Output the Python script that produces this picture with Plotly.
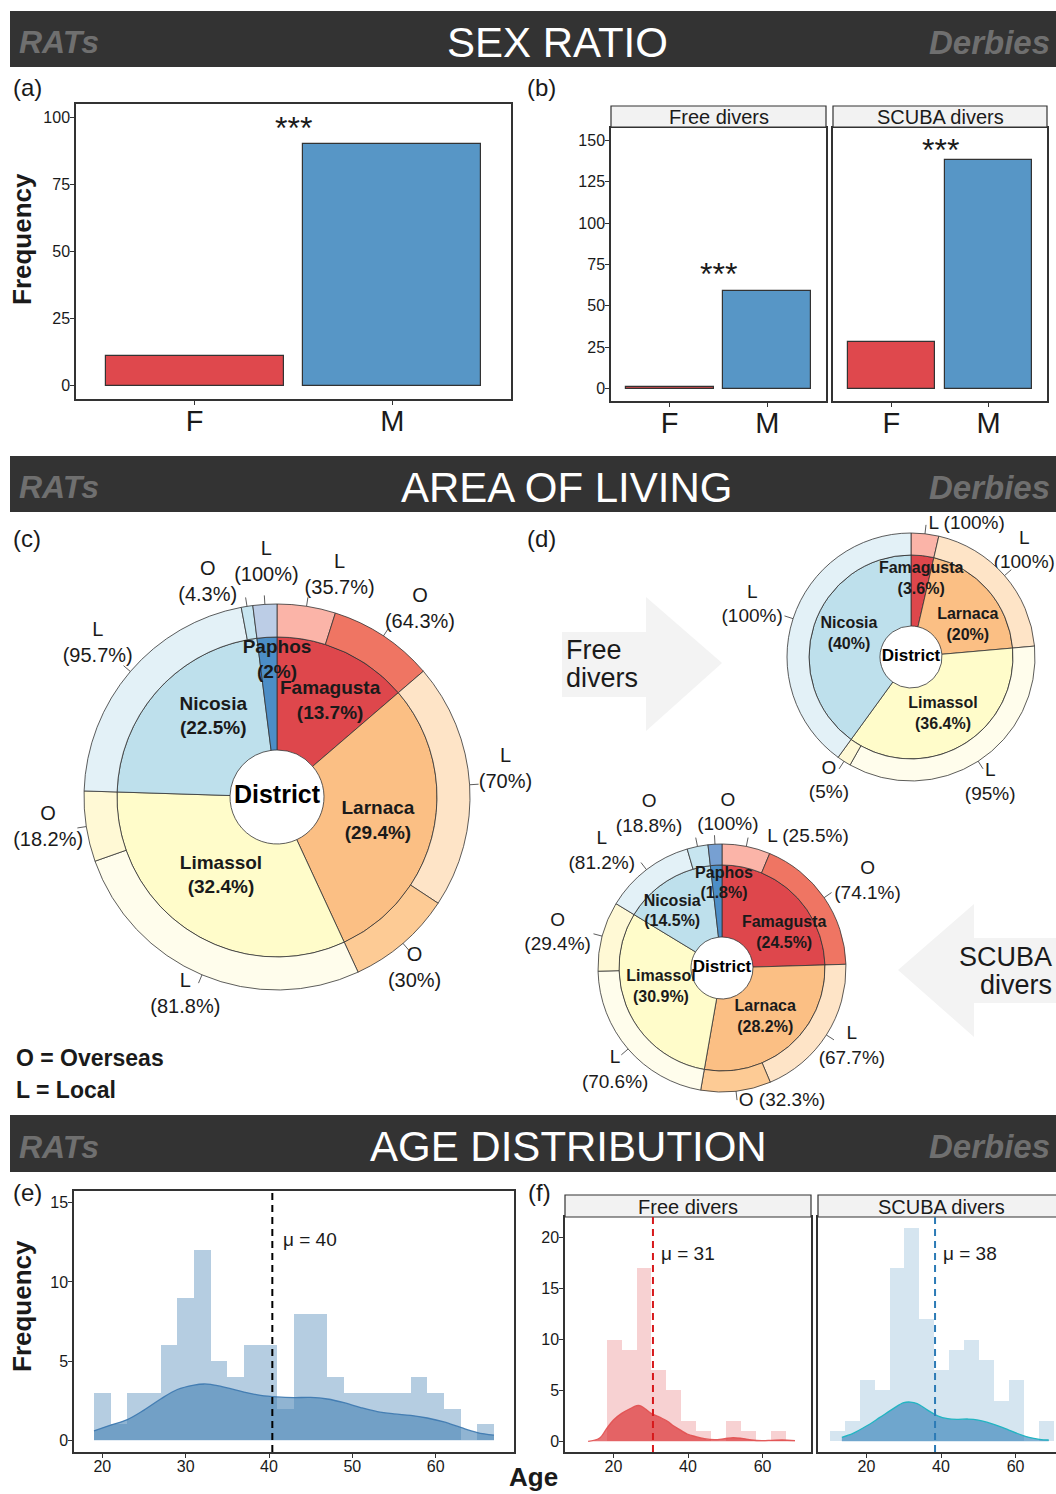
import math
import plotly.graph_objects as go

FIG_W, FIG_H = 1056, 1494
FONT = "Liberation Sans, Arial, Helvetica, sans-serif"
INK = "#1a1a1a"
EDGE = "#333333"


def fx(px):
    return px / FIG_W


def fy(py):
    return 1 - py / FIG_H


# ---------------- data ----------------
sex_levels = ["F", "M"]
rats_sex_counts = [11, 90]
free_sex_counts = [1, 59]
scuba_sex_counts = [28, 138]

rats_districts = ["Famagusta", "Larnaca", "Limassol", "Nicosia", "Paphos"]
rats_district_pct = [13.7, 29.4, 32.4, 22.5, 2.0]
rats_local_pct = [35.7, 70.0, 81.8, 95.7, 100.0]
rats_overseas_pct = [64.3, 30.0, 18.2, 4.3, 0.0]

free_districts = ["Famagusta", "Larnaca", "Limassol", "Nicosia"]
free_district_pct = [3.6, 20.0, 36.4, 40.0]
free_local_pct = [100.0, 100.0, 95.0, 100.0]
free_overseas_pct = [0.0, 0.0, 5.0, 0.0]

scuba_districts = ["Famagusta", "Larnaca", "Limassol", "Nicosia", "Paphos"]
scuba_district_pct = [24.5, 28.2, 30.9, 14.5, 1.8]
scuba_local_pct = [25.5, 67.7, 70.6, 81.2, 0.0]
scuba_overseas_pct = [74.1, 32.3, 29.4, 18.8, 100.0]

# RATs ages, 2-year bins
rats_age_bin_mid = [20, 22, 24, 26, 28, 30, 32, 34, 36, 38, 40, 42,
                    44, 46, 48, 50, 52, 54, 56, 58, 60, 62, 64, 66]
rats_age_counts = [3, 1, 3, 3, 6, 9, 12, 5, 4, 6, 6, 2,
                   8, 8, 4, 3, 3, 3, 3, 4, 3, 2, 0, 1]
rats_age_bin_width = 2
rats_density_age = [19, 21, 23, 25, 27, 29, 31, 32.2, 33, 35, 37, 39, 41,
                    43, 45, 47, 49, 51, 53, 55, 57, 59, 61, 63, 65, 67]
rats_density = [0.59, 0.95, 1.3, 1.9, 2.6, 3.2, 3.48, 3.55, 3.52, 3.3, 3.04,
                2.83, 2.73, 2.69, 2.7, 2.6, 2.37, 2.06, 1.8, 1.66, 1.57, 1.4,
                1.15, 0.8, 0.48, 0.31]
rats_age_mean = 40.4

# Derbies ages, 4-year bins
derby_age_bin_width = 4
free_age_bin_mid = [20.2, 24.2, 28.2, 32.2, 36.2, 40.2, 44.2, 48.2, 52.2,
                    56.2, 60.2, 64.2]
free_age_counts = [10, 9, 17, 7, 5, 2, 1, 0, 2, 1, 0, 1]
free_density_age = [13.2, 16.2, 18.2, 20, 22.2, 24.4, 26.2, 27.1, 28.5, 30.1,
                    32.5, 34.4, 36.2, 38, 39.8, 42.1, 44.4, 47.1, 49.8, 52.1,
                    54.4, 57.1, 59.8, 62.5, 65.3, 68.7]
free_density = [0.0, 0.3, 1.27, 2.1, 2.75, 3.2, 3.5, 3.5, 3.2, 2.75, 2.35,
                2.0, 1.5, 1.1, 0.72, 0.46, 0.26, 0.16, 0.26, 0.36, 0.29, 0.13,
                0.07, 0.1, 0.13, 0.07]
free_age_mean = 30.6

scuba_age_bin_mid = [12.2, 16.2, 20.2, 24.2, 28.2, 32.2, 36.2, 40.2, 44.2,
                     48.2, 52.2, 56.2, 60.2, 64.2, 68.2]
scuba_age_counts = [1, 2, 6, 5, 17, 21, 12, 7, 9, 10, 8, 4, 6, 0, 2]
scuba_density_age = [13.4, 16.4, 20, 23.6, 27.3, 30, 31.8, 33.6, 36.4, 39.1,
                     41.8, 44.5, 47.3, 50, 52.7, 55.5, 58.2, 60.9, 63.6, 66.4,
                     68.9]
scuba_density = [0.39, 0.78, 1.5, 2.35, 3.24, 3.8, 3.86, 3.7, 3.07, 2.5, 2.22,
                 2.16, 2.19, 2.09, 1.83, 1.5, 1.11, 0.72, 0.39, 0.2, 0.13]
scuba_age_mean = 38.4

# ---------------- styling ----------------
SEX_FILL = ["#DF484D", "#5796C6"]
DISTRICT_FILL = {"Famagusta": "#DE474C", "Larnaca": "#FBBF84",
                 "Limassol": "#FFFCCA", "Nicosia": "#BEE0EC",
                 "Paphos": "#4C8EC7"}
RING_FILL = {("Famagusta", "L"): "#FBB4A8", ("Famagusta", "O"): "#EF7563",
             ("Larnaca", "L"): "#FEE4C7", ("Larnaca", "O"): "#FDCB95",
             ("Limassol", "L"): "#FFFDEC", ("Limassol", "O"): "#FFF9D5",
             ("Nicosia", "L"): "#E3F1F7", ("Nicosia", "O"): "#C7E5F0",
             ("Paphos", "L"): "#BCCDE6", ("Paphos", "O"): "#77A0D2"}

fig = go.Figure()

# ---------------- sex ratio bars ----------------
for xa, ya, counts in (("x", "y", rats_sex_counts),
                       ("x2", "y2", free_sex_counts),
                       ("x3", "y3", scuba_sex_counts)):
    fig.add_trace(go.Bar(x=sex_levels, y=counts, width=0.9, xaxis=xa, yaxis=ya,
                         marker=dict(color=SEX_FILL, line=dict(color=EDGE, width=1.2)),
                         hoverinfo="skip"))


# ---------------- age histograms ----------------
def add_hist(xa, ya, mids, counts, width, hist_fill, dens_x, dens_y, dens_fill, dens_line):
    fig.add_trace(go.Bar(x=mids, y=counts, width=width, xaxis=xa, yaxis=ya,
                         marker=dict(color=hist_fill, line=dict(width=0)),
                         hoverinfo="skip"))
    fig.add_trace(go.Scatter(x=dens_x, y=dens_y, xaxis=xa, yaxis=ya, mode="lines",
                             fill="tozeroy", fillcolor=dens_fill,
                             line=dict(color=dens_line, width=1.3, shape="spline"),
                             hoverinfo="skip"))


add_hist("x4", "y4", rats_age_bin_mid, rats_age_counts, rats_age_bin_width,
         "rgba(70,130,180,0.40)", rats_density_age, rats_density,
         "rgba(70,130,180,0.60)", "rgba(60,120,175,0.9)")
add_hist("x5", "y5", free_age_bin_mid, free_age_counts, derby_age_bin_width,
         "rgba(215,25,28,0.20)", free_density_age, free_density,
         "rgba(215,25,28,0.60)", "rgba(225,80,80,0.9)")
add_hist("x6", "y6", scuba_age_bin_mid, scuba_age_counts, derby_age_bin_width,
         "rgba(44,123,182,0.20)", scuba_density_age, scuba_density,
         "rgba(44,123,182,0.60)", "#22B5C2")


# ---------------- district donuts ----------------
def fmt(v):
    return f"{v:g}"


def add_donut(subplot, label_axes, names, pct, local, overseas, geom, inner_place,
              outer_place, inner_size, outer_size, center_size):
    n = len(names)
    total = sum(pct)
    spans = [p / total * 360 for p in pct]
    starts = [sum(spans[:i]) for i in range(n)]
    mids = [s + w / 2 for s, w in zip(starts, spans)]
    hole, inner, outer = geom["hole"], geom["inner"], geom["outer"]

    fig.add_trace(go.Barpolar(
        theta=mids, width=spans, base=[hole] * n, r=[inner - hole] * n,
        marker=dict(color=[DISTRICT_FILL[d] for d in names],
                    line=dict(color=EDGE, width=0.8)),
        subplot=subplot, hoverinfo="skip"))

    seg_theta, seg_width, seg_color, seg_info = [], [], [], []
    for d, s, w, lv, ov in zip(names, starts, spans, local, overseas):
        off = s
        for kind, v in (("L", lv), ("O", ov)):
            if v <= 0:
                continue
            sw = w * v / (lv + ov)
            seg_theta.append(off + sw / 2)
            seg_width.append(sw)
            seg_color.append(RING_FILL[(d, kind)])
            seg_info.append((d, kind, v))
            off += sw
    m = len(seg_theta)
    fig.add_trace(go.Barpolar(
        theta=seg_theta, width=seg_width, base=[inner] * m, r=[outer - inner] * m,
        marker=dict(color=seg_color, line=dict(color=EDGE, width=0.8)),
        subplot=subplot, hoverinfo="skip"))

    # leader ticks from the outer edge
    lr, lt = [], []
    for th in seg_theta:
        lr += [outer, outer + 9, None]
        lt += [th, th, None]
    fig.add_trace(go.Scatterpolar(r=lr, theta=lt, mode="lines", subplot=subplot,
                                  line=dict(color=EDGE, width=0.8),
                                  cliponaxis=False, hoverinfo="skip"))

    # district labels inside the ring
    irr, it, itxt = [], [], []
    for d, p, th in zip(names, pct, mids):
        dth, rr = inner_place[d]
        irr.append(rr)
        it.append(th + dth)
        itxt.append(f"<b>{d}</b><br><b>({fmt(p)}%)</b>")
    fig.add_trace(go.Scatterpolar(r=irr, theta=it, text=itxt, mode="text",
                                  textposition="middle center", subplot=subplot,
                                  textfont=dict(family=FONT, size=inner_size, color=INK),
                                  cliponaxis=False, hoverinfo="skip"))
    fig.add_trace(go.Scatterpolar(r=[0], theta=[0], text=["<b>District</b>"], mode="text",
                                  textposition="middle center", subplot=subplot,
                                  textfont=dict(family=FONT, size=center_size, color="black"),
                                  cliponaxis=False, hoverinfo="skip"))

    # Local / Overseas labels outside the ring, on a pixel-scaled overlay
    ox, oy, otxt, opos = [], [], [], []
    for th, (d, kind, v) in zip(seg_theta, seg_info):
        dth, rr, pos = outer_place[(d, kind)]
        a = math.radians(th + dth)
        ox.append(rr * math.sin(a))
        oy.append(rr * math.cos(a))
        sep = " " if pos != "middle center" else "<br>"
        otxt.append(f"{kind}{sep}({fmt(v)}%)")
        opos.append(pos)
    fig.add_trace(go.Scatter(x=ox, y=oy, text=otxt, mode="text", textposition=opos,
                             xaxis=label_axes[0], yaxis=label_axes[1],
                             textfont=dict(family=FONT, size=outer_size, color=INK),
                             cliponaxis=False, hoverinfo="skip"))


C_GEOM = dict(cx=277, cy=797, hole=47, inner=160, outer=193, half=250)
FREE_GEOM = dict(cx=911, cy=657, hole=31, inner=102, outer=124, half=140)
SCUBA_GEOM = dict(cx=722, cy=968, hole=31, inner=103, outer=124, half=140)

c_inner_place = {"Famagusta": (4.5, 109), "Larnaca": (1.7, 104), "Limassol": (1.8, 97),
                 "Nicosia": (9, 102), "Paphos": (3.6, 136)}
c_outer_place = {("Famagusta", "L"): (7, 230, "middle center"),
                 ("Famagusta", "O"): (4, 235, "middle center"),
                 ("Larnaca", "L"): (-3, 230, "middle center"),
                 ("Larnaca", "O"): (2, 220, "middle center"),
                 ("Limassol", "L"): (2, 218, "middle center"),
                 ("Limassol", "O"): (1, 231, "middle center"),
                 ("Nicosia", "L"): (0, 236, "middle center"),
                 ("Nicosia", "O"): (-9, 225, "middle center"),
                 ("Paphos", "L"): (1, 234, "middle center")}

free_inner_place = {"Famagusta": (1, 78), "Larnaca": (12, 65), "Limassol": (0.5, 66),
                    "Nicosia": (2, 66)}
free_outer_place = {("Famagusta", "L"): (1, 134, "middle right"),
                    ("Larnaca", "L"): (-2, 155, "middle center"),
                    ("Limassol", "L"): (0.7, 149, "middle center"),
                    ("Limassol", "O"): (0.7, 149, "middle center"),
                    ("Nicosia", "L"): (0, 167, "middle center")}

scuba_inner_place = {"Famagusta": (17, 71), "Larnaca": (0, 66), "Limassol": (7, 64),
                     "Nicosia": (-9, 75), "Paphos": (4.6, 84)}
scuba_outer_place = {("Famagusta", "L"): (7.8, 138, "middle right"),
                     ("Famagusta", "O"): (4, 169, "middle center"),
                     ("Larnaca", "L"): (-1.4, 152, "middle center"),
                     ("Larnaca", "O"): (-0.7, 134, "middle right"),
                     ("Limassol", "L"): (-3, 148, "middle center"),
                     ("Limassol", "O"): (-3, 168, "middle center"),
                     ("Nicosia", "L"): (-8.5, 167, "middle center"),
                     ("Nicosia", "O"): (-14, 170, "middle center"),
                     ("Paphos", "O"): (5.4, 155, "middle center")}

add_donut("polar", ("x7", "y7"), rats_districts, rats_district_pct, rats_local_pct,
          rats_overseas_pct, C_GEOM, c_inner_place, c_outer_place, 19, 20, 25)
add_donut("polar2", ("x8", "y8"), free_districts, free_district_pct, free_local_pct,
          free_overseas_pct, FREE_GEOM, free_inner_place, free_outer_place, 16, 19, 17)
add_donut("polar3", ("x9", "y9"), scuba_districts, scuba_district_pct, scuba_local_pct,
          scuba_overseas_pct, SCUBA_GEOM, scuba_inner_place, scuba_outer_place, 16, 19, 17)


def polar_layout(g):
    h = g["half"]
    return dict(domain=dict(x=[fx(g["cx"] - h), fx(g["cx"] + h)],
                            y=[fy(g["cy"] + h), fy(g["cy"] - h)]),
                bgcolor="rgba(0,0,0,0)", barmode="overlay", hole=0,
                radialaxis=dict(visible=False, range=[0, h]),
                angularaxis=dict(visible=False, rotation=90, direction="clockwise"))


def overlay_axes(g, xname, yname, reach=260):
    # one axis unit = one pixel, origin at the donut centre
    left, right = max(0, g["cx"] - reach), min(FIG_W, g["cx"] + reach)
    top, bottom = max(0, g["cy"] - reach), min(FIG_H, g["cy"] + reach)
    xa = dict(visible=False, domain=[fx(left), fx(right)],
              range=[left - g["cx"], right - g["cx"]], anchor=yname, fixedrange=True)
    ya = dict(visible=False, domain=[fy(bottom), fy(top)],
              range=[g["cy"] - bottom, g["cy"] - top], anchor=xname, fixedrange=True)
    return xa, ya


# ---------------- axes ----------------
def ax(**kw):
    base = dict(showline=True, linecolor=EDGE, linewidth=1.5, mirror=True,
                ticks="outside", ticklen=4, tickwidth=1, tickcolor=EDGE,
                showgrid=False, zeroline=False, fixedrange=True,
                tickfont=dict(family=FONT, size=16, color=INK))
    base.update(kw)
    return base


big_tick = dict(family=FONT, size=29, color=INK)
mid_tick = dict(family=FONT, size=16, color=INK)
f_px_per_year = (811 - 565) / 66

x7, y7 = overlay_axes(C_GEOM, "x7", "y7")
x8, y8 = overlay_axes(FREE_GEOM, "x8", "y8")
x9, y9 = overlay_axes(SCUBA_GEOM, "x9", "y9")

layout_axes = dict(
    xaxis=ax(domain=[fx(76), fx(511)], anchor="y", type="category",
             range=[-0.6, 1.6], tickfont=big_tick, ticklabelstandoff=-9),
    yaxis=ax(domain=[fy(399), fy(104)], anchor="x", range=[-5, 105],
             tickvals=[0, 25, 50, 75, 100], ticklabelstandoff=-3),
    xaxis2=ax(domain=[fx(611), fx(826)], anchor="y2", type="category",
              range=[-0.6, 1.6], tickfont=big_tick, ticklabelstandoff=-9),
    yaxis2=ax(domain=[fy(401), fy(128)], anchor="x2", range=[-7.5, 157.5],
              tickvals=[0, 25, 50, 75, 100, 125, 150], ticklabelstandoff=-3),
    xaxis3=ax(domain=[fx(833), fx(1047)], anchor="y3", type="category",
              range=[-0.6, 1.6], tickfont=big_tick, ticklabelstandoff=-9),
    yaxis3=ax(domain=[fy(401), fy(128)], anchor="x3", range=[-7.5, 157.5],
              showticklabels=False, ticks=""),
    xaxis4=ax(domain=[fx(74), fx(514)], anchor="y4", range=[16.6, 69.4],
              tickvals=[20, 30, 40, 50, 60], ticklabelstandoff=-5),
    yaxis4=ax(domain=[fy(1452), fy(1191)], anchor="x4", range=[-0.75, 15.75],
              tickvals=[0, 5, 10, 15], ticklabelstandoff=-3),
    xaxis5=ax(domain=[fx(565), fx(811)], anchor="y5", range=[7, 73],
              tickvals=[20, 40, 60], tickfont=mid_tick, ticklabelstandoff=-5),
    yaxis5=ax(domain=[fy(1452), fy(1217)], anchor="x5", range=[-1.05, 22.05],
              tickvals=[0, 5, 10, 15, 20], tickfont=mid_tick, ticklabelstandoff=-3),
    xaxis6=ax(domain=[fx(818), 1.0], anchor="y6",
              range=[7, 7 + (FIG_W - 818) / f_px_per_year],
              tickvals=[20, 40, 60], tickfont=mid_tick, ticklabelstandoff=-5),
    yaxis6=ax(domain=[fy(1452), fy(1217)], anchor="x6", range=[-1.05, 22.05],
              showticklabels=False, ticks="", mirror=False),
    xaxis7=x7, yaxis7=y7, xaxis8=x8, yaxis8=y8, xaxis9=x9, yaxis9=y9,
)

# ---------------- shapes & annotations ----------------
shapes, ann = [], []


def text(x, y, s, size, color=INK, xanchor="center", family=FONT, **kw):
    d = dict(x=fx(x), y=fy(y), xref="paper", yref="paper", text=s, showarrow=False,
             font=dict(family=family, size=size, color=color),
             xanchor=xanchor, yanchor="middle")
    d.update(kw)
    ann.append(d)


# section banners
for y0, y1, title, tx in ((11, 67, "SEX RATIO", 557),
                          (456, 512, "AREA OF LIVING", 566),
                          (1115, 1172, "AGE DISTRIBUTION", 568)):
    shapes.append(dict(type="rect", xref="paper", yref="paper", x0=fx(10), x1=fx(1070),
                       y0=fy(y1), y1=fy(y0), fillcolor="#333333", line=dict(width=0)))
    yc = (y0 + y1) / 2
    text(tx, yc + 3, title, 42, color="white")
    text(17, yc + 3, "<b><i>RATs</i></b>", 32, color="#6f6f6f", xanchor="left")
    text(927, yc + 3, "<b><i>Derbies</i></b>", 33, color="#6f6f6f", xanchor="left")

# panel letters
for s, x, y in (("(a)", 11, 88), ("(b)", 525, 88), ("(c)", 11, 538),
                ("(d)", 525, 538), ("(e)", 11, 1192), ("(f)", 526, 1192)):
    text(x, y, s, 24, xanchor="left")

# facet strips
for x0, x1, y0, y1, lab in ((611, 826, 106, 127, "Free divers"),
                            (833, 1047, 106, 127, "SCUBA divers"),
                            (565, 811, 1195, 1217, "Free divers"),
                            (818, 1064, 1195, 1217, "SCUBA divers")):
    shapes.append(dict(type="rect", xref="paper", yref="paper", x0=fx(x0), x1=fx(x1),
                       y0=fy(y1), y1=fy(y0), fillcolor="#F2F2F2",
                       line=dict(color=EDGE, width=1.2)))
    text((x0 + x1) / 2, (y0 + y1) / 2 + 1, lab, 20)

# significance stars
for xr, yr, yv in (("x", "y", 96), ("x2", "y2", 69), ("x3", "y3", 144)):
    ann.append(dict(x=0.5, y=yv, xref=xr, yref=yr, text="***", showarrow=False,
                    font=dict(family=FONT, size=32, color=INK)))

# axis titles
text(22, 239, "<b>Frequency</b>", 26, textangle=-90)
text(22, 1306, "<b>Frequency</b>", 26, textangle=-90)
text(533, 1477, "<b>Age</b>", 26)

# overseas/local key
text(14, 1058, "<b>O = Overseas</b>", 23, xanchor="left")
text(14, 1090, "<b>L = Local</b>", 23, xanchor="left")


# direction arrows in panel (d)
def poly(points):
    return "M " + " L ".join(f"{fx(x):.5f},{fy(y):.5f}" for x, y in points) + " Z"


shapes.append(dict(type="path", xref="paper", yref="paper", layer="below",
                   path=poly([(562, 632), (646, 632), (646, 597), (722, 663),
                              (646, 731), (646, 697), (562, 697)]),
                   fillcolor="#F3F3F3", line=dict(width=0)))
shapes.append(dict(type="path", xref="paper", yref="paper", layer="below",
                   path=poly([(1070, 938), (974, 938), (974, 904), (898, 970),
                              (974, 1037), (974, 1003), (1070, 1003)]),
                   fillcolor="#F3F3F3", line=dict(width=0)))
text(564, 650, "Free", 27, xanchor="left")
text(564, 678, "divers", 27, xanchor="left")
text(1054, 957, "SCUBA", 27, xanchor="right")
text(1054, 985, "divers", 27, xanchor="right")

# mean age lines
for xr, yr, mean, col, ylab in (("x4", "y4", rats_age_mean, "black", 12.7),
                                ("x5", "y5", free_age_mean, "#D7191C", 18.5),
                                ("x6", "y6", scuba_age_mean, "#2C7BB6", 18.5)):
    shapes.append(dict(type="line", xref=xr, yref=f"{yr} domain", x0=mean, x1=mean,
                       y0=0, y1=1, line=dict(color=col, width=2, dash="7px,5px")))
    ann.append(dict(x=mean + (1.0 if xr == "x4" else 1.6), y=ylab, xref=xr, yref=yr,
                    text=f"μ = {mean:.0f}", showarrow=False, xanchor="left",
                    font=dict(family=FONT, size=19, color=INK)))

fig.update_layout(
    width=FIG_W, height=FIG_H, margin=dict(l=0, r=0, t=0, b=0),
    paper_bgcolor="white", plot_bgcolor="rgba(0,0,0,0)", showlegend=False,
    barmode="overlay", bargap=0,
    polar=polar_layout(C_GEOM), polar2=polar_layout(FREE_GEOM),
    polar3=polar_layout(SCUBA_GEOM),
    shapes=shapes, annotations=ann, **layout_axes)

fig.write_html("out.html", config={"displayModeBar": False})
